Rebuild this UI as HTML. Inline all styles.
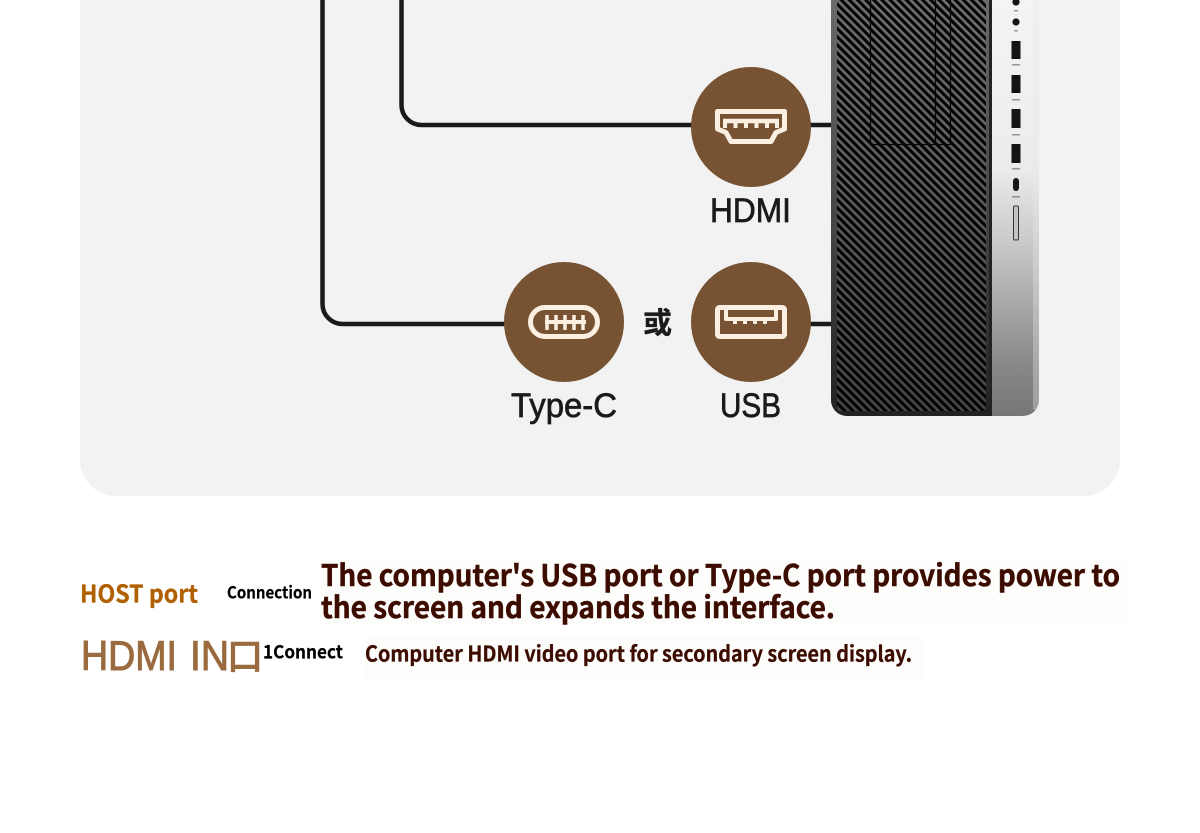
<!DOCTYPE html>
<html><head><meta charset="utf-8">
<style>html,body{margin:0;padding:0;background:#fff}svg{display:block}</style>
</head><body>
<svg width="1200" height="833" viewBox="0 0 1200 833" xmlns="http://www.w3.org/2000/svg">
<defs>
<pattern id="st" width="8" height="8" patternUnits="userSpaceOnUse" patternTransform="rotate(45) scale(0.72)">
<rect width="8" height="8" fill="#050505"/><rect y="0" width="8" height="3.6" fill="#727272"/>
</pattern>
<linearGradient id="sil" x1="0" y1="0" x2="0" y2="1">
<stop offset="0" stop-color="#f4f4f4"/><stop offset=".4" stop-color="#ececec"/><stop offset=".62" stop-color="#c2c2c2"/><stop offset=".85" stop-color="#8d8d8d"/><stop offset="1" stop-color="#767676"/>
</linearGradient>
<linearGradient id="frame" x1="0" y1="0" x2="0" y2="1">
<stop offset="0" stop-color="#6a6a6a"/><stop offset=".55" stop-color="#444"/><stop offset="1" stop-color="#222"/>
</linearGradient>
<linearGradient id="shade" x1="0" y1="0" x2="0" y2="1">
<stop offset="0" stop-color="#000" stop-opacity="0"/><stop offset=".5" stop-color="#000" stop-opacity=".18"/><stop offset="1" stop-color="#000" stop-opacity=".38"/>
</linearGradient>
</defs>
<rect x="80" y="-60" width="1040" height="556" rx="36" fill="#f2f2f2"/>

<g fill="none" stroke="#1a1a1a" stroke-width="4.500">
<path d="M401.500 0V105a20 20 0 0 0 20 20H700"/>
<path d="M322.500 0V304a20 20 0 0 0 20 20H510"/>
<path d="M805 125H835M805 324H835"/>
</g>

<!-- tower -->
<path d="M831 0H1039V400a16 16 0 0 1-16 16H847a16 16 0 0 1-16-16Z" fill="url(#sil)"/>
<path d="M831 0H992V416H847a16 16 0 0 1-16-16Z" fill="url(#frame)"/>
<rect x="837" y="0" width="149" height="411" rx="4" fill="url(#st)"/>
<rect x="837" y="0" width="149" height="411" rx="4" fill="url(#shade)"/>
<rect x="989" y="0" width="3" height="416" fill="#222"/>
<rect x="1033" y="0" width="6" height="410" fill="#e9e9e9" opacity=".35"/>
<g fill="none" stroke="#060606" stroke-width="1.300">
<path d="M870.500 0V144.500H950.500V0M935.500 0V144.500"/>
</g>
<g fill="#151515">
<circle cx="1016" cy="2" r="3.600"/><circle cx="1016" cy="22" r="3.600"/>
<rect x="1011.500" y="41" width="9" height="18"/>
<rect x="1011.500" y="75" width="9" height="18"/>
<rect x="1011.500" y="109" width="9" height="19"/>
<rect x="1011.500" y="144" width="9" height="19"/>
<rect x="1013" y="178" width="6" height="13" rx="3"/>
<g opacity=".4">
<rect x="1014" y="10" width="4" height="1.500"/><rect x="1014" y="30" width="4" height="1.500"/>
<rect x="1012" y="64" width="8" height="1.500"/><rect x="1012" y="99" width="8" height="1.500"/>
<rect x="1012" y="134" width="8" height="1.500"/><rect x="1012" y="168" width="8" height="1.500"/>
<rect x="1012" y="196" width="8" height="1.500"/>
</g>
</g>
<rect x="1013.500" y="206" width="5" height="34" rx="1.500" fill="#c4c4c4" stroke="#333" stroke-width="1"/>

<!-- circles -->
<circle cx="751" cy="127" r="60" fill="#775333"/>
<circle cx="564" cy="322" r="60" fill="#775333"/>
<circle cx="751" cy="322" r="60" fill="#775333"/>

<!-- HDMI icon -->
<g fill="none" stroke="#fbefe2" stroke-linejoin="round">
<path d="M717.500 111.500H784.500V129L776 132.500L771 141.500H731L726 132.500L717.500 129Z" stroke-width="5"/>
<path d="M723 121H779" stroke-width="4.500"/>
<path d="M725 121V128M735.500 121V128M746 121V128M756.500 121V128M767 121V128M777 121V128" stroke-width="4"/>
</g>
<!-- Type-C icon -->
<g fill="none" stroke="#fbefe2">
<rect x="530.500" y="307.500" width="67" height="29" rx="14.500" stroke-width="5"/>
<path d="M545 322H586" stroke-width="4"/>
<path d="M547 315V330M556 315V330M565 315V330M574 315V330M583 315V330" stroke-width="3.500"/>
</g>
<!-- USB icon -->
<g fill="none" stroke="#fbefe2" stroke-linejoin="round">
<rect x="717.500" y="307.500" width="67" height="29" rx="2" stroke-width="5"/>
<path d="M726 309V319H776V309" stroke-width="4"/>
<path d="M735 319V324M745 319V324M755 319V324M765 319V324" stroke-width="4"/>
</g>

<g font-family="'Liberation Sans','Noto Sans CJK SC',sans-serif" fill="#1a1a1a" stroke="#1a1a1a" stroke-width=".7" font-size="34">
<text x="710" y="222" textLength="81" lengthAdjust="spacingAndGlyphs">HDMI</text>
<text x="511" y="417" textLength="106" lengthAdjust="spacingAndGlyphs">Type-C</text>
<text x="720" y="417" textLength="61" lengthAdjust="spacingAndGlyphs">USB</text>
<text x="643" y="333" font-size="29" font-weight="700" stroke-width=".3" font-family="'Noto Sans CJK SC',sans-serif">或</text>
</g>

<!-- lower text -->
<rect x="321" y="560" width="809" height="65" fill="#fdfdfb"/>
<rect x="365" y="636" width="558" height="44" fill="#fdfdfb"/>
<g font-family="'Noto Sans CJK SC','Liberation Sans',sans-serif" font-weight="700">
<text x="80" y="602.500" font-size="24.500" fill="#b06000" stroke="#b06000" stroke-width=".3" textLength="118" lengthAdjust="spacingAndGlyphs">HOST port</text>
<text x="227" y="598.500" font-size="16.500" fill="#000" stroke="#000" stroke-width=".2" textLength="85" lengthAdjust="spacingAndGlyphs">Connection</text>
<text x="321" y="586" font-size="29.500" fill="#3d0c00" stroke="#3d0c00" stroke-width=".5" textLength="799" lengthAdjust="spacingAndGlyphs">The computer's USB port or Type-C port provides power to</text>
<text x="321" y="618" font-size="29.500" fill="#3d0c00" stroke="#3d0c00" stroke-width=".5" textLength="514" lengthAdjust="spacingAndGlyphs">the screen and expands the interface.</text>
<text x="263" y="658.500" font-size="18.500" fill="#000" stroke="#000" stroke-width=".2" textLength="80" lengthAdjust="spacingAndGlyphs">1Connect</text>
<text x="365" y="661.500" font-size="21.500" fill="#3d0c00" stroke="#3d0c00" stroke-width=".3" textLength="547" lengthAdjust="spacingAndGlyphs">Computer HDMI video port for secondary screen display.</text>
</g>
<g fill="#9a6b3f" stroke="#9a6b3f">
<text x="81" y="670" font-family="'Liberation Sans',sans-serif" font-size="42" stroke-width="1" textLength="96" lengthAdjust="spacingAndGlyphs">HDMI</text>
<text x="190" y="670" font-family="'Liberation Sans',sans-serif" font-size="42" stroke-width="1" textLength="39" lengthAdjust="spacingAndGlyphs">IN</text>
<text x="227" y="669" font-family="'Noto Sans CJK SC',sans-serif" font-size="36" stroke-width="1.400">口</text>
</g>
</svg>
</body></html>
